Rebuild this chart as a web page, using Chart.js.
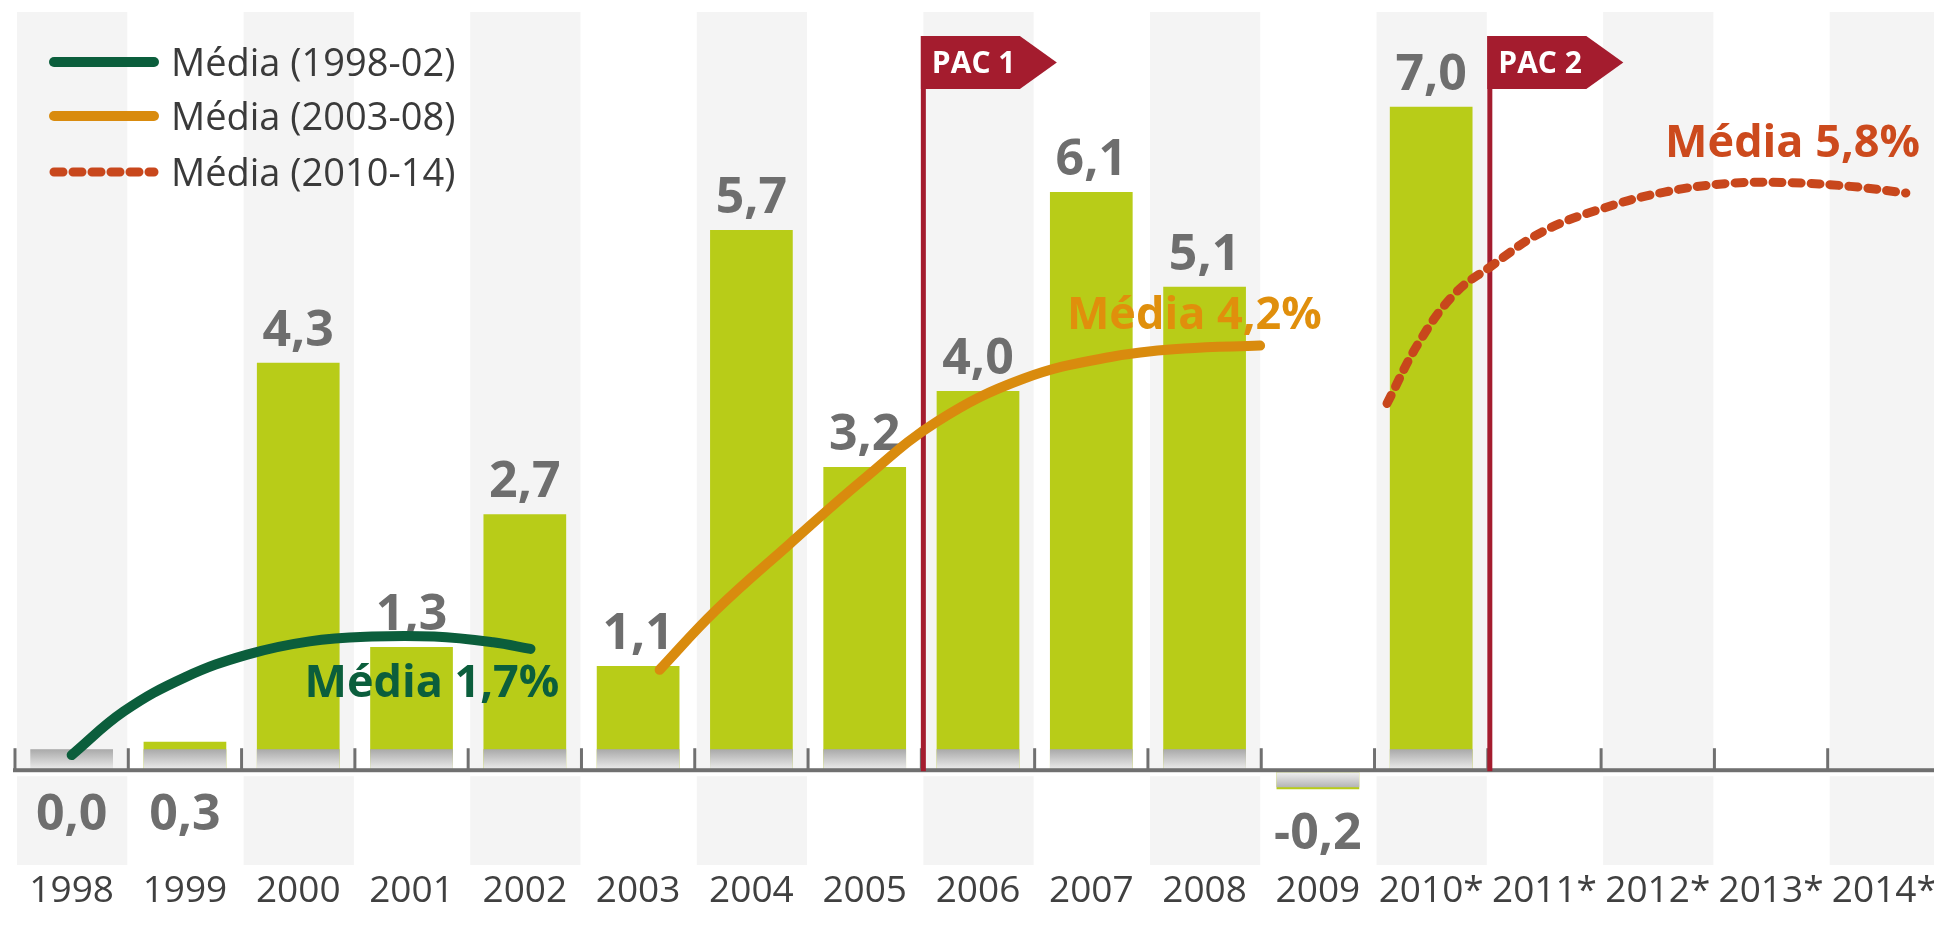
<!DOCTYPE html>
<html lang="pt">
<head>
<meta charset="utf-8">
<title>Investimento - média por período</title>
<script src="https://cdn.jsdelivr.net/npm/chart.js@4.4.1/dist/chart.umd.min.js"></script>
<style>
  html, body { margin: 0; padding: 0; background: #fff; overflow: hidden; }
  /* a little wider than the window: the 2014* column is cut at the right edge */
  #wrap { position: relative; width: 1960px; height: 926px; }
</style>
</head>
<body>
<div id="wrap"><canvas id="growthChart"></canvas></div>
<script>
const years = ['1998', '1999', '2000', '2001', '2002', '2003', '2004', '2005', '2006',
               '2007', '2008', '2009', '2010*', '2011*', '2012*', '2013*', '2014*'];
const growth = [0.0, 0.3, 4.3, 1.3, 2.7, 1.1, 5.7, 3.2, 4.0, 6.1, 5.1, -0.2, 7.0,
                null, null, null, null];

const avgNames = ['Média (1998-02)', 'Média (2003-08)', 'Média (2010-14)'];
const avgValues = [1.7, 4.2, 5.8];

// the three arcs (x = year index, 0 = 1998; y = %)
const arc9802 = [
  {x: 0.0, y: 0.16}, {x: 0.46, y: 0.62}, {x: 1.0, y: 0.98}, {x: 1.55, y: 1.22},
  {x: 2.1, y: 1.36}, {x: 2.65, y: 1.41}, {x: 3.2, y: 1.41}, {x: 3.72, y: 1.35}, {x: 4.05, y: 1.28}
];
const arc0308 = [
  {x: 5.19, y: 1.06}, {x: 5.68, y: 1.68}, {x: 6.34, y: 2.39}, {x: 6.99, y: 3.07},
  {x: 7.64, y: 3.68}, {x: 8.40, y: 4.13}, {x: 9.17, y: 4.36}, {x: 9.82, y: 4.45}, {x: 10.49, y: 4.48}
];
const arc1014 = [
  {x: 11.61, y: 3.87}, {x: 11.89, y: 4.51}, {x: 12.21, y: 5.03}, {x: 12.52, y: 5.31},
  {x: 12.98, y: 5.68}, {x: 13.52, y: 5.93}, {x: 14.06, y: 6.10}, {x: 14.61, y: 6.19},
  {x: 15.15, y: 6.20}, {x: 15.7, y: 6.16}, {x: 16.19, y: 6.09}
];

const pacNames = ['PAC 1', 'PAC 2'];
const pacStart = [7.5, 12.5];   // between 2005|2006 and 2010*|2011*

const FONT = '"Open Sans", "Noto Sans", sans-serif';
const LIME = '#b8cc18';
const lineColors = ['#0b5e3c', '#d98b0e', '#c8471c'];
const tagColors = ['#0b5e3c', '#e08f0c', '#cc4a1d'];
// where the "Média x%" tags sit (same units as the arcs)
const tagPos = [{x: 3.18, y: 0.94}, {x: 9.91, y: 4.82}, {x: 15.19, y: 6.64}];

const fmt = v => v.toFixed(1).replace('.', ',');

// light grey column stripes
const stripes = {
  id: 'stripes',
  beforeDatasetsDraw(chart) {
    const {ctx, chartArea: a, scales: {y, xl}} = chart;
    const zero = y.getPixelForValue(0);
    ctx.save();
    ctx.fillStyle = '#f4f4f4';
    years.forEach((_, i) => {
      if (i % 2) return;
      const l = xl.getPixelForValue(i - 0.5) + 2;
      const r = xl.getPixelForValue(i + 0.5) - 1;
      ctx.fillRect(l, a.top, r - l, zero - a.top);
      ctx.fillRect(l, zero + 6, r - l, a.bottom - zero - 6);
    });
    ctx.restore();
  }
};

// shadow under the bars, value labels, axis, PAC markers (under the arcs)
const barExtras = {
  id: 'barExtras',
  afterDatasetDraw(chart, args) {
    if (args.index !== 0) return;
    const {ctx, scales: {y, xl}} = chart;
    const zero = y.getPixelForValue(0);
    ctx.save();

    args.meta.data.forEach((bar, i) => {
      const v = growth[i];
      if (v === null) return;
      const top = v < 0 ? zero + 2 : zero - 21;
      const bottom = v < 0 ? zero + 17 : zero;
      const g = ctx.createLinearGradient(0, top, 0, bottom);
      g.addColorStop(0, v < 0 ? '#f0f0f0' : '#a9a9a9');
      g.addColorStop(1, v < 0 ? '#b4b4b4' : '#eeeeee');
      ctx.fillStyle = g;
      ctx.fillRect(bar.x - bar.width / 2, top, bar.width, bottom - top);
    });

    const fs = 50;
    ctx.font = 'bold ' + fs + 'px ' + FONT;
    ctx.fillStyle = '#6e6e6e';
    ctx.textAlign = 'center';
    ctx.textBaseline = 'alphabetic';
    args.meta.data.forEach((bar, i) => {
      const v = growth[i];
      if (v === null) return;
      let cy;
      if (v < 0) cy = bar.y + 42;
      else if (v < 0.5) cy = zero + 42;
      else cy = bar.y - 35;
      ctx.fillText(fmt(v), bar.x, cy + fs * 0.357);
    });

    // baseline and ticks
    ctx.fillStyle = '#707070';
    ctx.fillRect(xl.getPixelForValue(-0.5) - 2, zero - 2, chart.width, 4);
    for (let k = 0; k < years.length; k++) {
      const px = xl.getPixelForValue(k - 0.5);
      ctx.fillRect(px - 1.5, zero - 22, 3, 22);
    }

    // PAC flags
    const fTop = 36, fBot = 89;
    pacStart.forEach((b, i) => {
      const px = xl.getPixelForValue(b) - 0.5;
      ctx.fillStyle = '#a41c2e';
      ctx.fillRect(px, fTop, 5, zero + 1 - fTop);
      ctx.beginPath();
      ctx.moveTo(px, fTop);
      ctx.lineTo(px + 99, fTop);
      ctx.lineTo(px + 136, (fTop + fBot) / 2);
      ctx.lineTo(px + 99, fBot);
      ctx.lineTo(px, fBot);
      ctx.closePath();
      ctx.fill();
      ctx.fillStyle = '#ffffff';
      ctx.font = 'bold 30px ' + FONT;
      ctx.textAlign = 'left';
      ctx.fillText(pacNames[i], px + 11, (fTop + fBot) / 2 + 30 * 0.357);
    });
    ctx.restore();
  }
};

// "Média x%" tags and the legend, on top of everything
const overlay = {
  id: 'overlay',
  afterDatasetsDraw(chart) {
    const {ctx, scales: {y, xl}} = chart;
    ctx.save();
    const fs = 45;
    ctx.font = 'bold ' + fs + 'px ' + FONT;
    ctx.textAlign = 'center';
    tagPos.forEach((p, i) => {
      ctx.fillStyle = tagColors[i];
      ctx.fillText('Média ' + fmt(avgValues[i]) + '%', xl.getPixelForValue(p.x),
                   y.getPixelForValue(p.y) + fs * 0.357);
    });

    const lfs = 38;
    ctx.font = lfs + 'px ' + FONT;
    ctx.textAlign = 'left';
    const rows = [62, 116, 172];
    chart.data.datasets.slice(1).forEach((ds, i) => {
      ctx.strokeStyle = ds.borderColor;
      ctx.lineWidth = ds.borderWidth;
      ctx.lineCap = 'round';
      ctx.setLineDash(ds.borderDash || []);
      ctx.beginPath();
      ctx.moveTo(54, rows[i]);
      ctx.lineTo(154, rows[i]);
      ctx.stroke();
      ctx.setLineDash([]);
      ctx.fillStyle = '#3a3a3a';
      ctx.fillText(ds.label, 171, rows[i] + lfs * 0.357);
    });
    ctx.restore();
  }
};

function arcSet(label, data, i, dash) {
  return {
    type: 'line',
    label: label,
    data: data,
    xAxisID: 'xl',
    borderColor: lineColors[i],
    borderWidth: dash ? 9 : 10,
    borderDash: dash,
    borderCapStyle: 'round',
    tension: 0.4,
    pointRadius: 0,
    fill: false,
    order: 1
  };
}

function draw() {
  new Chart(document.getElementById('growthChart'), {
    type: 'bar',
    data: {
      labels: years,
      datasets: [
        {
          label: 'Crescimento (%)',
          data: growth,
          backgroundColor: LIME,
          barPercentage: 0.73,
          categoryPercentage: 1,
          grouped: false,
          order: 10
        },
        arcSet(avgNames[0], arc9802, 0),
        arcSet(avgNames[1], arc0308, 1),
        arcSet(avgNames[2], arc1014, 2, [9, 10])
      ]
    },
    options: {
      responsive: true,
      maintainAspectRatio: false,
      animation: false,
      devicePixelRatio: 1,
      layout: { padding: { left: 15, right: 19, top: 12, bottom: 8 } },
      plugins: {
        legend: { display: false },
        tooltip: { enabled: false }
      },
      scales: {
        x: {
          offset: true,
          grid: { display: false, drawTicks: false },
          border: { display: false },
          ticks: {
            autoSkip: false,
            maxRotation: 0,
            padding: 8,
            color: '#404040',
            font: { family: FONT, size: 37, lineHeight: 1 }
          }
        },
        xl: {
          type: 'linear', display: false, offset: false,
          grid: { offset: false }, min: -0.5, max: 16.5
        },
        y: { display: false, min: -1, max: 8 }
      }
    },
    plugins: [stripes, barExtras, overlay]
  });
}

Promise.all([
  document.fonts.load('37px "Open Sans"'),
  document.fonts.load('bold 40px "Open Sans"')
]).then(draw, draw);
</script>
</body>
</html>
